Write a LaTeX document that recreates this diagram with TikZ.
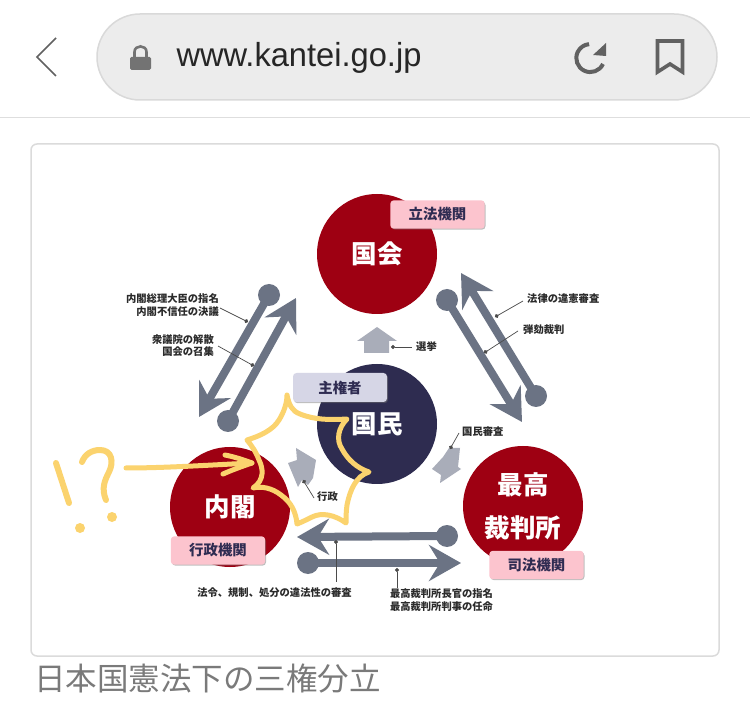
\documentclass[tikz,border=0pt]{standalone}
\usepackage{fontspec}
\setmainfont{Liberation Sans}
\newfontfamily\cjk{Noto Sans CJK JP}
\usetikzlibrary{arrows.meta,shadows}
\definecolor{crim}{HTML}{9E0012}
\definecolor{navy}{HTML}{2E2C50}
\definecolor{steel}{HTML}{6B7384}
\definecolor{pale}{HTML}{A9ADB9}
\definecolor{pinkb}{HTML}{FCC4CE}
\definecolor{lilac}{HTML}{D6D6E6}
\definecolor{ink}{HTML}{2F2C52}
\definecolor{pen}{HTML}{FBD36E}
\definecolor{txt}{HTML}{2B2B2B}
\tikzset{
  bigc/.style={circle,minimum size=120pt,inner sep=0pt,text=white,font=\cjk\bfseries\fontsize{25.5}{43}\selectfont,align=center},
  tagbox/.style={rounded corners=3.5pt,minimum width=94pt,minimum height=28pt,inner sep=0pt,text=ink,font=\cjk\bfseries\fontsize{14.4}{16}\selectfont,
     drop shadow={shadow xshift=1pt,shadow yshift=-1.2pt,fill=black!55,opacity=.45}},
  small/.style={inner sep=0pt,text=txt,font=\cjk\bfseries\fontsize{10.3}{12.4}\selectfont},
  ball/.style={circle,fill=steel,minimum size=22pt,inner sep=0pt},
  bar/.style={draw=steel,line width=8pt,-{Stealth[length=32pt,width=36pt,inset=11pt]}},
  leader/.style={draw=txt!85,line width=.7pt,{Circle[length=4pt,fill=txt!85]}-},
  house/.style={fill=pale},
  penline/.style={draw=pen,line width=5pt,line cap=round,line join=round},
  x=1pt,y=-1pt
}
\begin{document}
\begin{tikzpicture}
\useasboundingbox[fill=white] (0,0) rectangle (750,708);
% browser chrome
\draw[draw=black!15,fill=black!7.5,line width=1.5pt,rounded corners=43pt] (97,14) rectangle (717,100);
\draw[line width=1.6pt,draw=black!62] (56,38) -- (37,57) -- (56,76);
\fill[black!55,rounded corners=1.5pt] (130,57) rectangle (151,70);
\draw[black!55,line width=2.6pt] (134.5,58) -- (134.5,52) .. controls (134.5,44.5) and (146.5,44.5) .. (146.5,52) -- (146.5,58);
\node[inner sep=0pt,text=black!85,font=\fontsize{33.3}{36}\selectfont,xscale=.98] (url) at (299,58) {www.kantei.go.jp};
\draw[draw=black!62,line width=4pt] (603,64) arc[start angle=-25,end angle=-265,radius=14pt];
\fill[black!62] (606,43) -- (606,56) -- (593,55) -- cycle;
\draw[draw=black!62,line width=3.6pt,line join=miter] (657.5,41) -- (682.5,41) -- (682.5,72) -- (670,64) -- (657.5,72) -- cycle;
\draw[draw=black!13,line width=1.6pt] (0,117.5) -- (750,117.5);
% card
\draw[draw=black!14,line width=1.5pt,fill=white,rounded corners=6pt] (31,144) rectangle (719,656);
% circles
\node[bigc,fill=crim] (kokkai) at (377,254) {国会};
\node[bigc,fill=navy] (kokumin) at (377,424) {\raisebox{1pt}{国民}};
\node[bigc,fill=crim] (naikaku) at (230,507) {内閣};
\node[bigc,fill=crim] (saiko) at (523,506) {最高\\裁判所};
% tags
\node[tagbox] (t1) at (437.5,214.5) {};
\node[tagbox,fill=lilac,minimum height=29pt] (t2) at (340,387.5) {主権者};
\node[tagbox] (t3) at (218,550.5) {};
\node[tagbox] (t4) at (536.5,565) {};
\foreach \n in {t1,t3,t4} {\fill[pinkb,rounded corners=3.5pt] (\n.south west) rectangle (\n.north east);}
\node[inner sep=0pt,text=ink,font=\cjk\bfseries\fontsize{14.4}{16}\selectfont] (l1) at (t1) {立法機関};
\node[inner sep=0pt,text=ink,font=\cjk\bfseries\fontsize{14.4}{16}\selectfont] (l3) at (t3) {行政機関};
\node[inner sep=0pt,text=ink,font=\cjk\bfseries\fontsize{14.4}{16}\selectfont] (l4) at (t4) {司法機関};
% balls and bars
\node[ball] (b1) at (269,295) {};
\coordinate (a1) at (199,417);
\node[ball] (b2) at (228,421) {};
\coordinate (a2) at (296,298);
\node[ball] (b3) at (447,300) {};
\coordinate (a3) at (522,422);
\node[ball] (b4) at (536,396) {};
\coordinate (a4) at (461,273);
\node[ball] (b5) at (447,536) {};
\coordinate (a5) at (297,537);
\node[ball] (b6) at (308,563) {};
\coordinate (a6) at (461,563);
\foreach \p/\q in {b1/a1,b2/a2,b3/a3,b4/a4,b5/a5,b6/a6} {\draw[bar] (\p.center) -- (\q);}
% small block arrows
\fill[house] (377,327) -- (397,341) -- (389,341) -- (389,353) -- (364,353) -- (364,341) -- (357,341) -- cycle;
\fill[house] (296,448) -- (316,460) -- (313,478) -- (308,485) -- (302,480) -- (298,487) -- (288,463) -- (297,460) -- cycle;
\fill[house] (449,448) -- (460,448) -- (458,467) -- (461,469) -- (440,483) -- (441,475) -- (432,469) -- (443,457) -- (447,451) -- cycle;
% small labels
\node[small,anchor=east,align=right] (s1) at (219,305) {内閣総理大臣の指名\\内閣不信任の決議};
\node[small,anchor=east,align=right] (s2) at (214,345.5) {衆議院の解散\\国会の召集};
\node[small,anchor=west] (s3) at (527,299) {法律の違憲審査};
\node[small,anchor=west] (s4) at (523,330) {弾劾裁判};
\node[small,anchor=west] (s5) at (416,347) {選挙};
\node[small,anchor=west] (s6) at (462,432) {国民審査};
\node[small,anchor=west] (s7) at (317,497) {行政};
\node[small] (s8) at (274.5,593) {法令、規制、処分の違法性の審査};
\node[small,align=left] (s9) at (441.5,600) {最高裁判所長官の指名\\最高裁判所判事の任命};
% leaders
\coordinate (d1) at (248,322); \coordinate (e1) at (220,308);
\coordinate (d2) at (254,366); \coordinate (e2) at (218,346);
\coordinate (d3) at (495,317); \coordinate (e3) at (523,301);
\coordinate (d4) at (484,353); \coordinate (e4) at (518,331);
\coordinate (d5) at (391,347); \coordinate (e5) at (412,347);
\coordinate (d6) at (450,449); \coordinate (e6) at (459,433);
\coordinate (d7) at (303,480); \coordinate (e7) at (314,498);
\coordinate (d8) at (336,540); \coordinate (e8) at (336,582);
\coordinate (d9) at (397,568); \coordinate (e9) at (397,588);
\foreach \i in {1,...,9} {\draw[leader] (d\i) -- (e\i);}
% handwriting
\draw[penline] (287,395) .. controls (289,405) and (292,411) .. (300,414)
  .. controls (315,420) and (330,420) .. (347,419)
  .. controls (338,428) and (336,440) .. (342,449)
  .. controls (348,460) and (357,468) .. (369,472)
  .. controls (356,476) and (350,490) .. (347,505)
  .. controls (346,512) and (346,518) .. (346,523)
  .. controls (335,515) and (322,512) .. (312,517)
  .. controls (306,520) and (302,522) .. (297,524)
  .. controls (296,512) and (291,502) .. (281,495)
  .. controls (272,488) and (262,486) .. (253,488)
  .. controls (265,480) and (263,468) .. (259,460)
  .. controls (256,452) and (252,446) .. (247,440)
  .. controls (260,436) and (273,430) .. (279,420)
  .. controls (284,412) and (287,403) .. (287,395);
\draw[penline] (126,468) .. controls (165,468) and (210,465) .. (252,463);
\draw[penline] (225,455) .. controls (235,457) and (244,460) .. (252,463) .. controls (243,466) and (232,470) .. (223,474);
\draw[penline,line width=6pt] (56,463) -- (69,503);
\fill[pen] (80,528) circle[radius=5pt];
\draw[penline,line width=6pt] (82,462) .. controls (85,454) and (92,450) .. (100,450) .. controls (112,450) and (114,462) .. (109,472) .. controls (105,480) and (101,488) .. (106,500);
\fill[pen] (112,517) circle[radius=5pt];
% caption
\node[inner sep=0pt,anchor=west,text=black!52,font=\cjk\fontsize{31.5}{34}\selectfont] (cap) at (34,679) {日本国憲法下の三権分立};
\end{tikzpicture}
\end{document}
